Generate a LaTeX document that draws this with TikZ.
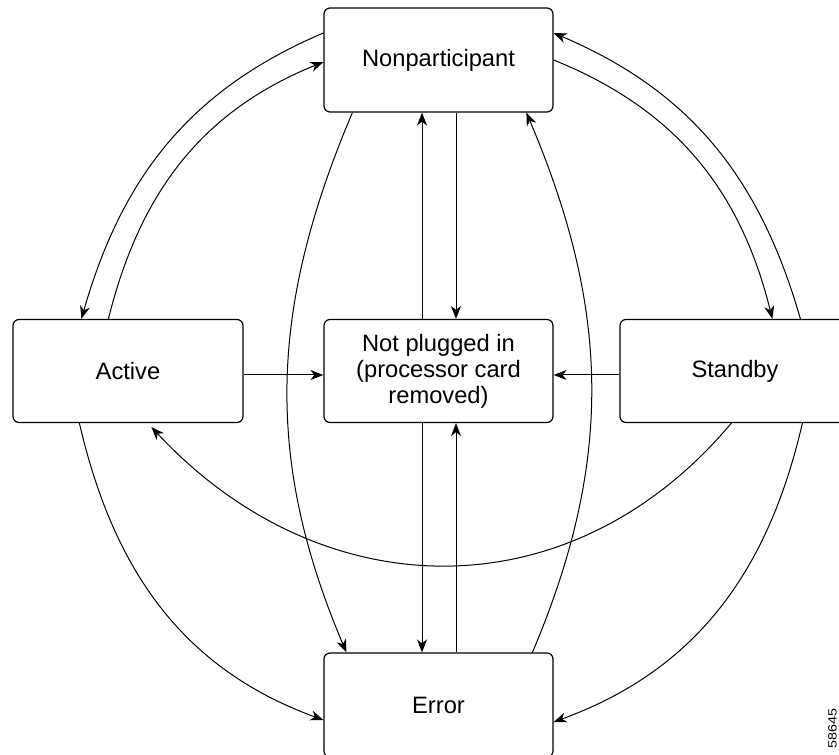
\documentclass[tikz,border=0pt]{standalone}
\usepackage{fontspec}
\setmainfont{Liberation Sans}
\usetikzlibrary{arrows.meta}
\begin{document}
\begin{tikzpicture}[x=1pt,y=1pt,
  state/.style={draw=black, line width=1.2pt, rounded corners=6pt,
    minimum width=229pt, minimum height=104pt, inner sep=0pt,
    align=center, font=\fontsize{23.7}{26}\selectfont},
  link/.style={line width=1pt, -{Stealth[length=13pt,width=10pt,inset=4pt]}},
]
\useasboundingbox (0,0) rectangle (839,755);
\clip (0,0) rectangle (839,755);

% states
\node[state] (np)  at (438.5,695) {Nonparticipant};
\node[state, minimum width=230pt, minimum height=103pt] (act) at (128,384) {Active};
\node[state, minimum height=103pt] (mid) at (438.5,384) {Not plugged in\\(processor card\\removed)};
\node[state, minimum width=230pt, minimum height=103pt] (sb)  at (735,384) {Standby};
\node[state] (err) at (438.5,50) {Error};

% horizontal transitions into the centre
\draw[link] ([yshift=-4]act.east) -- ([yshift=-4]mid.west);
\draw[link] ([yshift=-4]sb.west) -- ([yshift=-4]mid.east);

% vertical transitions
\draw[link] ([xshift=-16.5]mid.north) -- ([xshift=-16.5]np.south);
\draw[link] ([xshift=17.5]np.south) -- ([xshift=17.5]mid.north);
\draw[link] ([xshift=-16.5]mid.south) -- ([xshift=-16.5]err.north);
\draw[link] ([xshift=17.5]err.north) -- ([xshift=17.5]mid.south);

% Nonparticipant <-> Active
\draw[link] ([yshift=27]np.west) to[out=203,in=74] ([xshift=69]act.north west);
\draw[link] ([xshift=96]act.north west) to[out=76,in=202] ([yshift=-2]np.west);

% Nonparticipant <-> Standby
\draw[link] ([xshift=181]sb.north west) to[out=106,in=337] ([yshift=27]np.east);
\draw[link] (np.east) to[out=338,in=104] ([xshift=153]sb.north west);

% transitions into Error
\draw[link] ([xshift=67]act.south west) to[out=283,in=160] ([yshift=-15]err.west);
\draw[link] ([xshift=183]sb.south west) to[out=257,in=20] ([yshift=-17]err.east);
\draw[link] ([xshift=29]np.south west) to[out=247,in=113] ([xshift=23]err.north west);

% Error -> Nonparticipant
\draw[link] ([xshift=209]err.north west) to[out=67,in=293] ([xshift=203]np.south west);

% Standby -> Active
\draw[link] ([xshift=112]sb.south west) to[out=230,in=313,looseness=1.1] ([xshift=139,yshift=-4]act.south west);

% figure number
\node[rotate=90, anchor=south east, inner sep=0pt,
  font=\fontsize{12}{13}\selectfont] (fignum) at (837,47) {\scalebox{1.2}[1]{58645}};
\end{tikzpicture}
\end{document}
